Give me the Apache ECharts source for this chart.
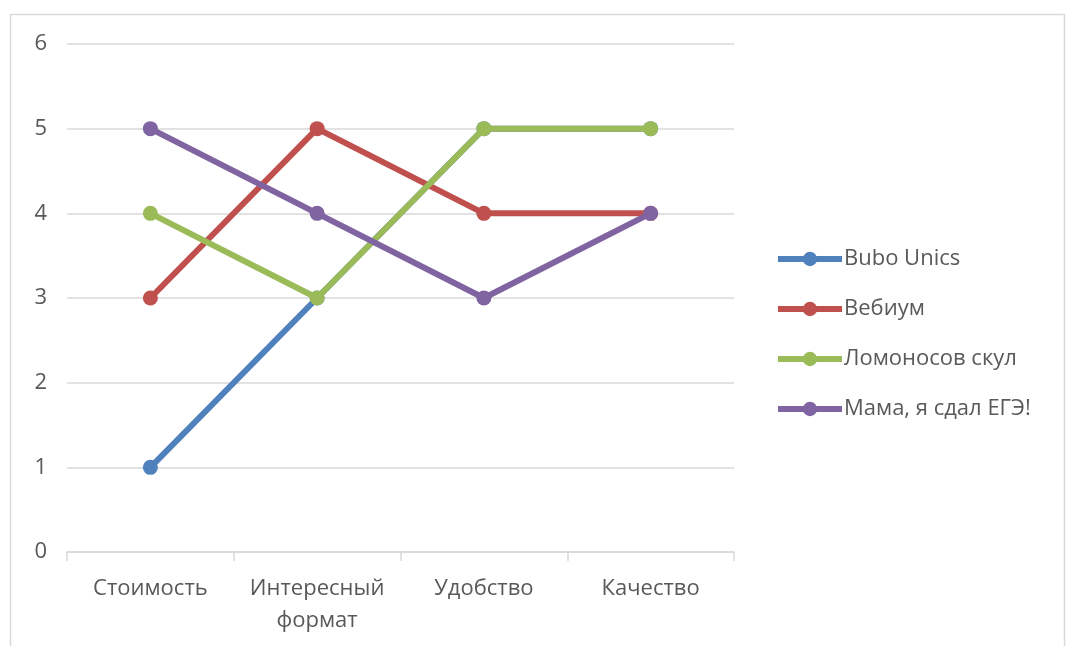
<!DOCTYPE html>
<html>
<head>
<meta charset="utf-8">
<script src="https://cdn.jsdelivr.net/npm/echarts@6/dist/echarts.min.js"></script>
<style>
  html, body { margin: 0; padding: 0; background: #fff; }
  #container { width: 1066px; height: 646px; }
</style>
</head>
<body>
<div id="container"></div>
<script>
// данные графика
var categories = ['Стоимость', 'Интересный\nформат', 'Удобство', 'Качество'];
var seriesNames = ['Bubo Unics', 'Вебиум', 'Ломоносов скул', 'Мама, я сдал ЕГЭ!'];
var buboUnics = [1, 3, 5, 5];
var vebium = [3, 5, 4, 4];
var lomonosov = [4, 3, 5, 5];
var mama = [5, 4, 3, 4];
var colors = ['#4F81BD', '#C0504D', '#9BBB59', '#8064A2'];

var myChart = echarts.init(document.getElementById('container'));

var font = 'Open Sans';
var values = [buboUnics, vebium, lomonosov, mama];
var series = [];
for (var i = 0; i < values.length; i++) {
  series.push({
    name: seriesNames[i],
    type: 'line',
    data: values[i],
    symbol: 'circle',
    symbolSize: 15,
    lineStyle: { width: 6, color: colors[i] },
    itemStyle: { color: colors[i] },
    z: 2 + i
  });
}

var option = {
  color: colors,
  animation: false,
  graphic: [{
    type: 'rect',
    shape: { x: 10.5, y: 14.5, width: 1054, height: 700 },
    style: { fill: 'none', stroke: '#d9d9d9', lineWidth: 1.5 },
    silent: true
  }],
  grid: { left: 67, right: 332, top: 44, bottom: 94 },
  legend: {
    orient: 'vertical',
    left: 770,
    top: 243,
    itemWidth: 64,
    itemHeight: 18,
    itemGap: 28,
    lineStyle: { width: 6 },
    textStyle: { color: '#595959', fontSize: 22, fontFamily: font, padding: [0, 0, 0, -3] },
    data: seriesNames
  },
  xAxis: {
    type: 'category',
    data: categories,
    boundaryGap: true,
    axisLine: { lineStyle: { color: '#d9d9d9', width: 1.5 } },
    axisTick: { show: true, length: 9, lineStyle: { color: '#d9d9d9', width: 1.5 } },
    axisLabel: { color: '#595959', fontSize: 22, fontFamily: font, margin: 21, lineHeight: 32, interval: 0 },
    splitLine: { show: false }
  },
  yAxis: {
    type: 'value',
    min: 0,
    max: 6,
    interval: 1,
    axisLine: { show: false },
    axisTick: { show: false },
    axisLabel: { color: '#595959', fontSize: 22, fontFamily: font, margin: 20 },
    splitLine: { lineStyle: { color: '#d9d9d9', width: 1.5 } }
  },
  series: series
};
myChart.setOption(option);
</script>
</body>
</html>
